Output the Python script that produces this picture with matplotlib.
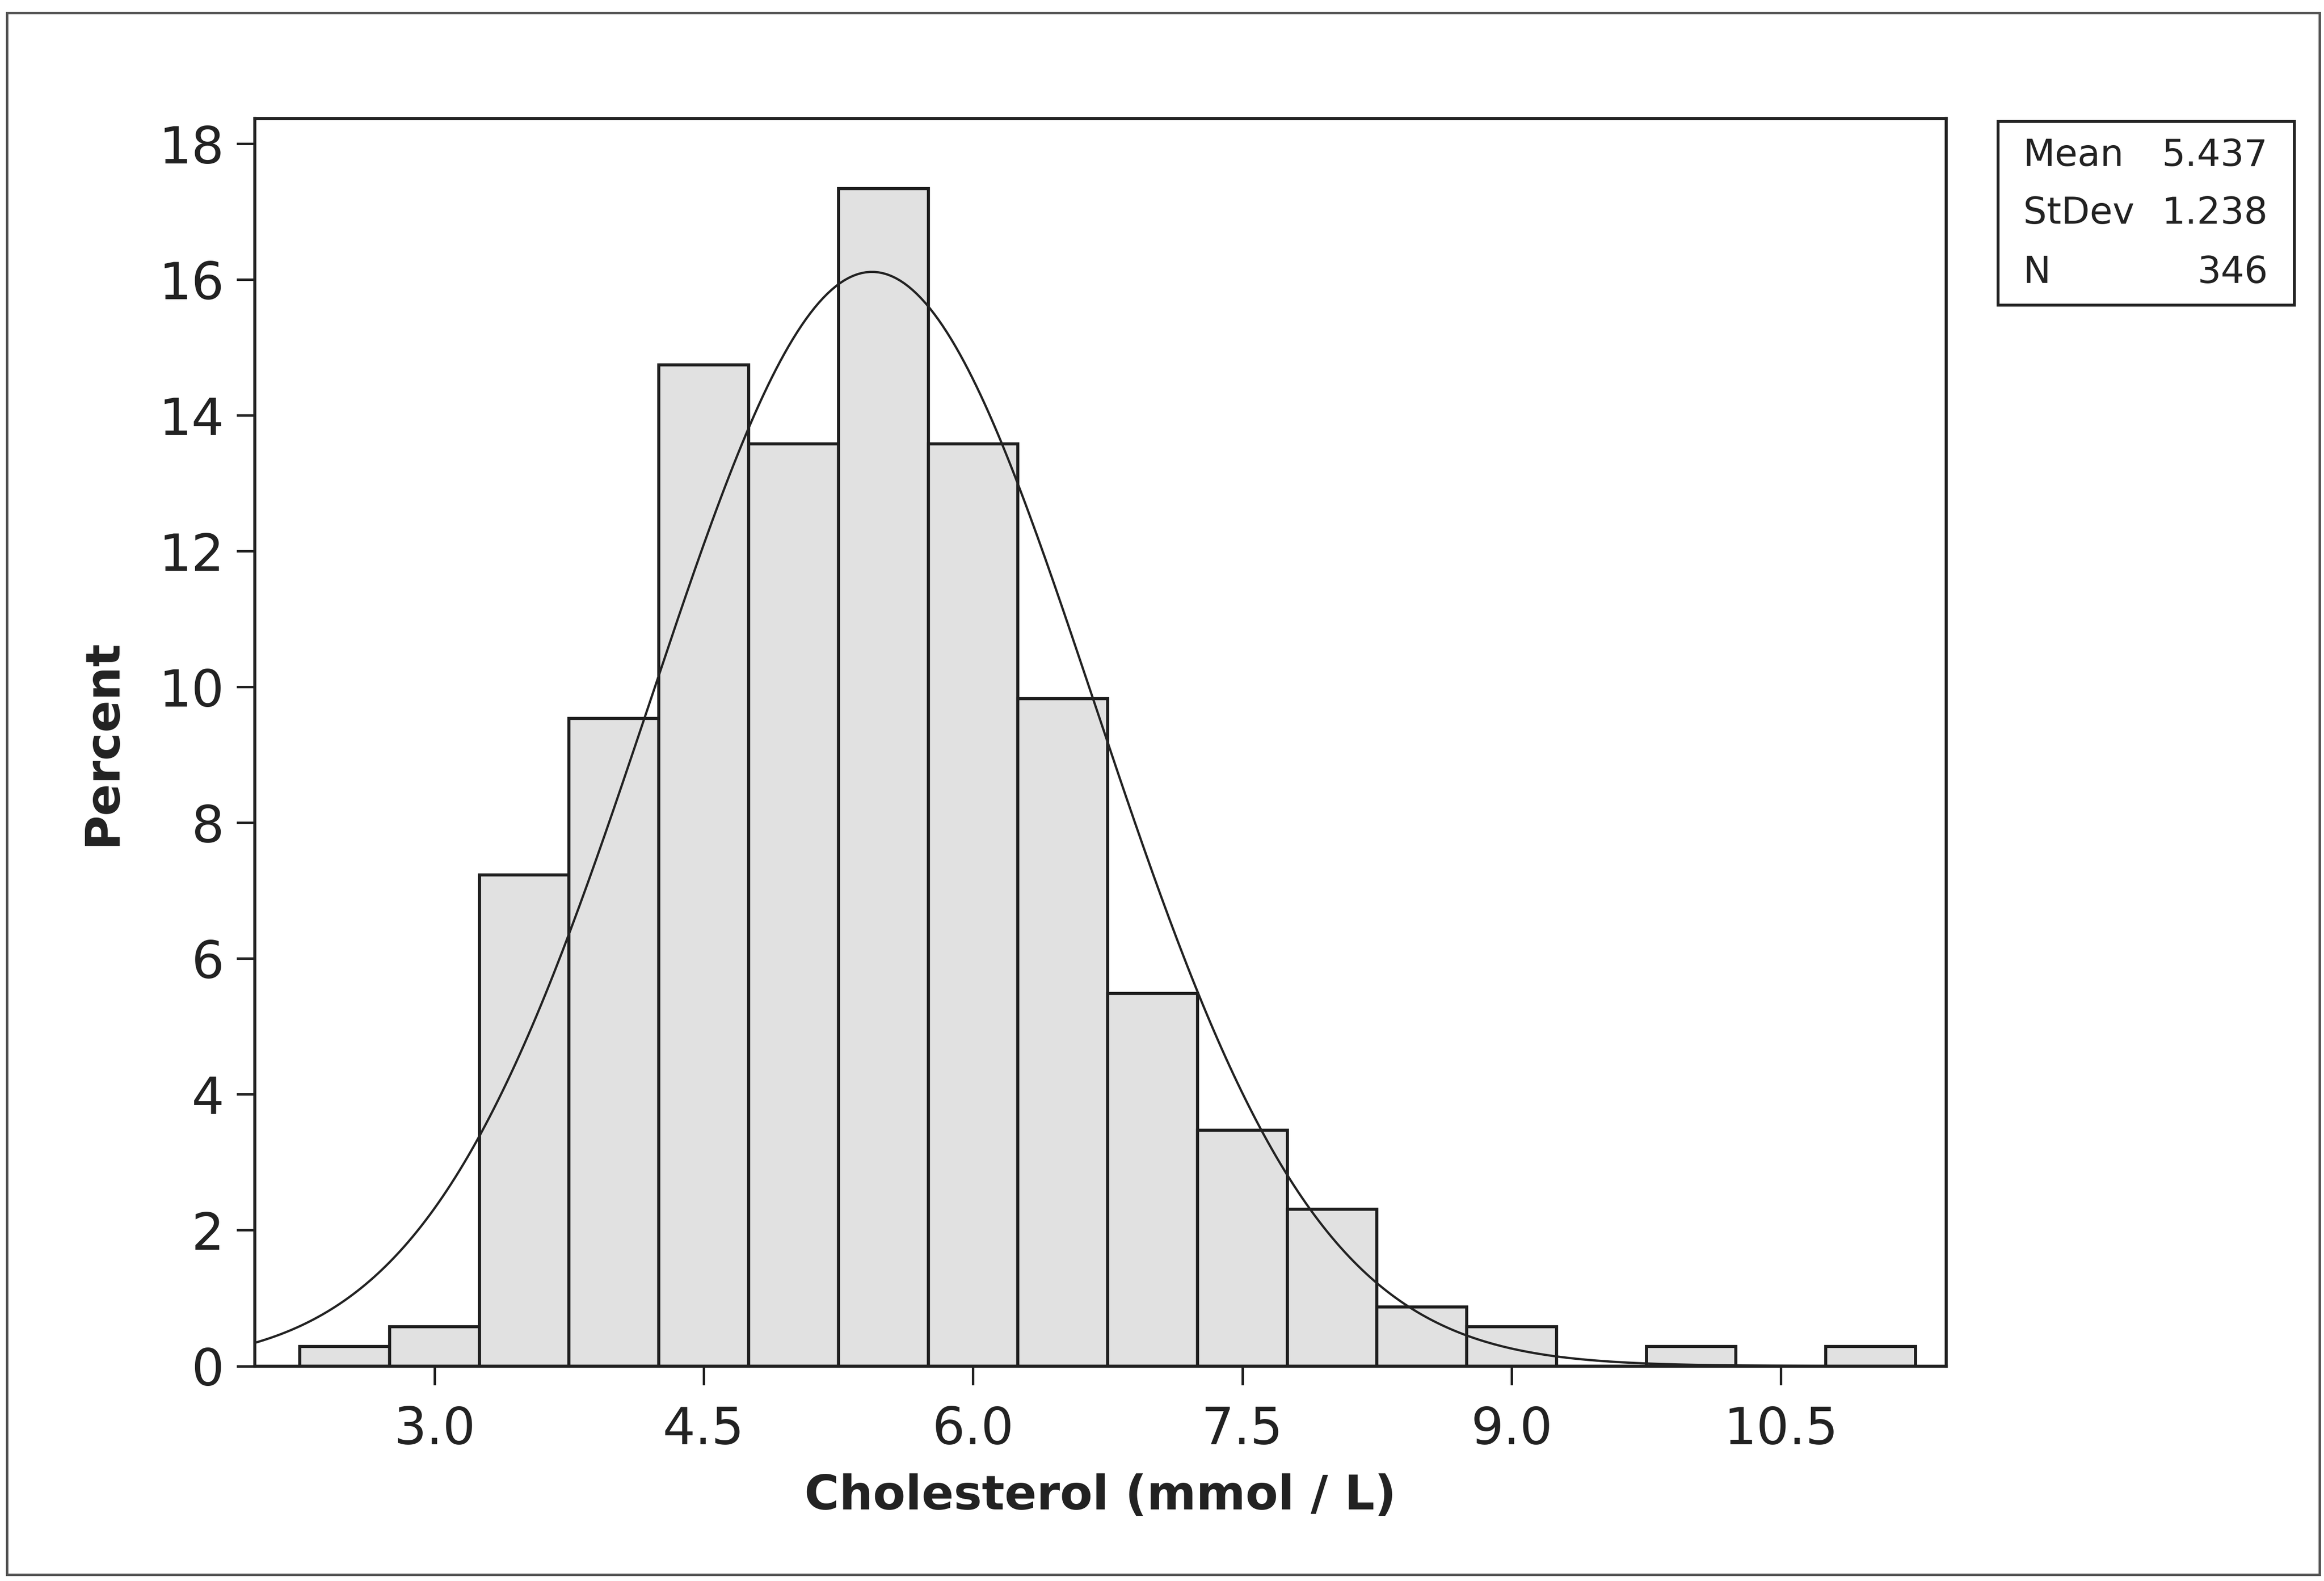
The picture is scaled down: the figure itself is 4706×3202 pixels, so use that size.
import numpy as np
import matplotlib
matplotlib.use("Agg")
import matplotlib.pyplot as plt
from matplotlib.patches import Rectangle

# bin midpoints (mmol/L) and percent of patients in each bin
bin_mids = [2.5, 3.0, 3.5, 4.0, 4.5, 5.0, 5.5, 6.0, 6.5, 7.0, 7.5, 8.0, 8.5, 9.0, 9.5, 10.0, 10.5, 11.0]
percent = [0.29, 0.58, 7.23, 9.54, 14.74, 13.58, 17.34, 13.58, 9.83, 5.49, 3.47, 2.31, 0.87, 0.58, 0.0, 0.29, 0.0, 0.29]
bin_width = 0.5

# summary stats shown in the box
mean = 5.437
stdev = 1.238
n = 346

x_ticks = [3.0, 4.5, 6.0, 7.5, 9.0, 10.5]
y_ticks = [0, 2, 4, 6, 8, 10, 12, 14, 16, 18]

plt.rcParams['font.family'] = ['DejaVu Sans']

fig = plt.figure(figsize=(4706 / 300, 3202 / 300), dpi=300)
ax = fig.add_axes([0.1097, 0.136, 0.7277, 0.789])

ax.bar(bin_mids, percent, width=bin_width, color='#e1e1e1', edgecolor='#1e1e1e', linewidth=1.5, zorder=2)

# fitted normal curve (percent per bin)
xs = np.linspace(1.95, 11.45, 400)
fit = 100 * bin_width * np.exp(-0.5 * ((xs - mean) / stdev) ** 2) / (stdev * np.sqrt(2 * np.pi))
ax.plot(xs, fit, color='#222222', linewidth=1.1, zorder=3)

ax.set_xlim(2.0, 11.42)
ax.set_ylim(0, 18.37)
ax.set_xticks(x_ticks)
ax.set_xticklabels(['%.1f' % t for t in x_ticks])
ax.set_yticks(y_ticks)
ax.tick_params(axis='both', labelsize=25, color='#222222', labelcolor='#222222', width=1.2, length=9)
ax.tick_params(axis='x', pad=10)
ax.tick_params(axis='y', pad=6)
for s in ax.spines.values():
    s.set_linewidth(1.5)
    s.set_color('#222222')

ax.set_xlabel('Cholesterol (mmol / L)', fontsize=23, fontweight='bold', color='#222222', labelpad=9)
ax.set_ylabel('Percent', fontsize=23, fontweight='bold', color='#222222', labelpad=16)

# stats box
fig.patches.append(Rectangle((0.8597, 0.8069), 0.1275, 0.1162, transform=fig.transFigure,
                             fill=False, edgecolor='#222222', linewidth=1.4))
rows = [('Mean', '%.3f' % mean), ('StDev', '%.3f' % stdev), ('N', '%d' % n)]
row_y = [0.9016, 0.8650, 0.8276]
for (lab, val), yy in zip(rows, row_y):
    fig.text(0.8705, yy, lab, fontsize=18, ha='left', va='center', color='#222222')
    fig.text(0.9758, yy, val, fontsize=18, ha='right', va='center', color='#222222')

# outer frame around the whole graph
fig.patches.append(Rectangle((0.003, 0.004), 0.995, 0.988, transform=fig.transFigure,
                             fill=False, edgecolor='#555555', linewidth=1.2))

fig.savefig('out.png', dpi=300, facecolor='white')
